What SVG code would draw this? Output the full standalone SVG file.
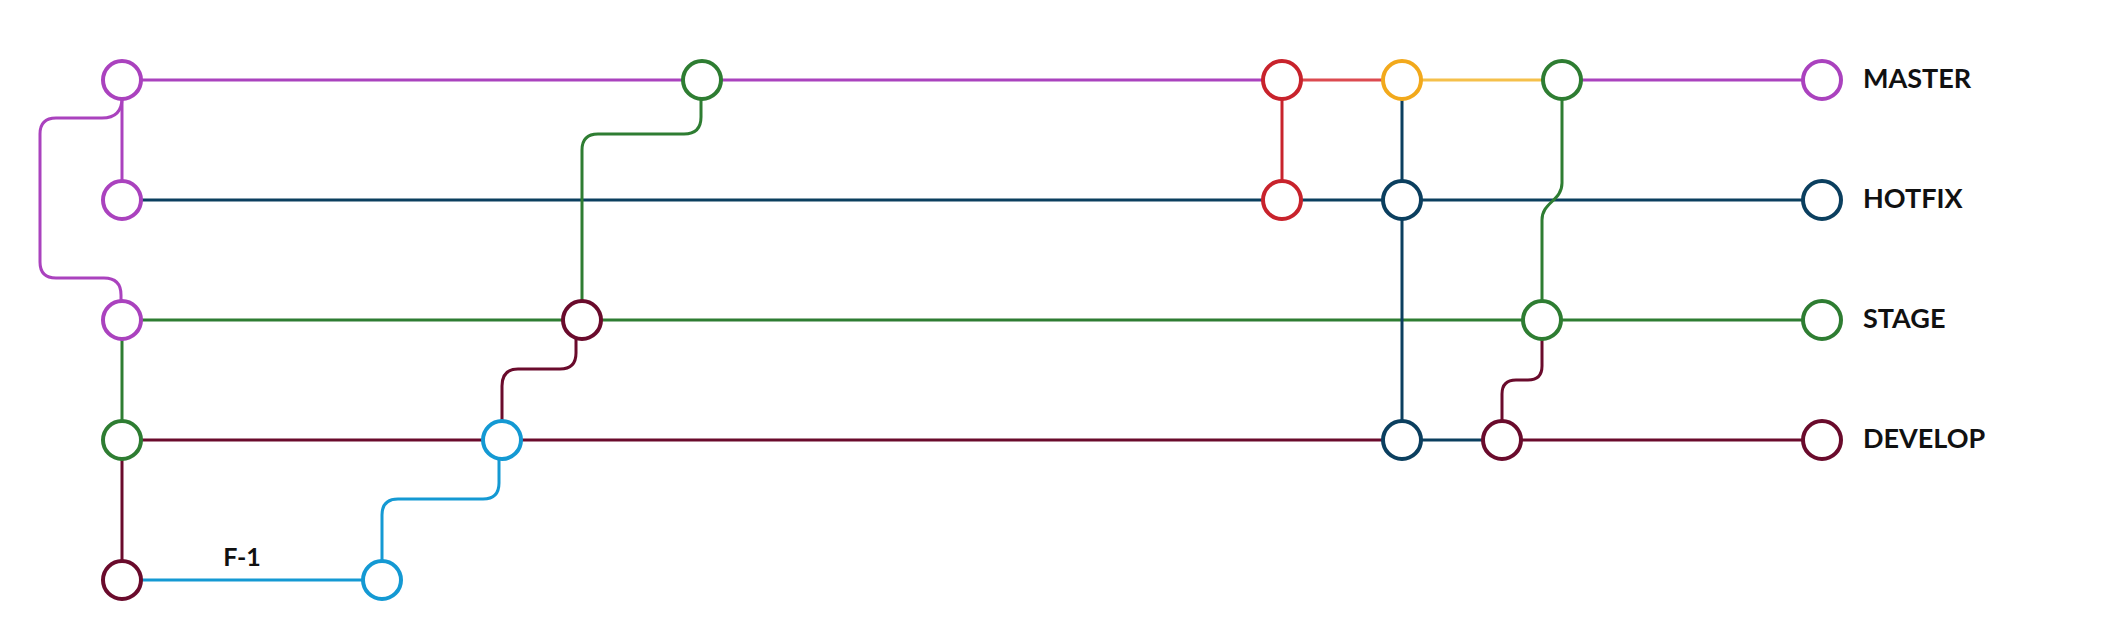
<svg xmlns="http://www.w3.org/2000/svg" width="2123" height="640" viewBox="0 0 2123 640">
<style>
.ln{fill:none;stroke-width:3;stroke-linecap:butt;stroke-linejoin:round}
.nd{fill:#ffffff;stroke-width:4}
.lbl{font-family:Lato,"Liberation Sans",sans-serif;font-weight:bold;font-size:27px;fill:#111111}
.pu{stroke:#aa42be}.db{stroke:#0b3f5f}.gr{stroke:#2e7d32}.dr{stroke:#6a0b2c}.lb{stroke:#1499d3}.rd{stroke:#c8232c}.rl{stroke:#dc4a50}.ye{stroke:#f2a91c}.yl{stroke:#f5c04a}
</style>
<rect width="2123" height="640" fill="#ffffff"/>
<g id="connectors">
<path class="ln pu" d="M122,80 H1282"/>
<path class="ln rl" d="M1282,80 H1402"/>
<path class="ln yl" d="M1402,80 H1562"/>
<path class="ln pu" d="M1562,80 H1822"/>
<path class="ln db" d="M122,200 H1822"/>
<path class="ln gr" d="M122,320 H1822"/>
<path class="ln dr" d="M122,440 H1402"/>
<path class="ln db" d="M1402,440 H1502"/>
<path class="ln dr" d="M1502,440 H1822"/>
<path class="ln lb" d="M122,580 H382"/>
<path class="ln pu" d="M122,80 V200"/>
<path class="ln pu" d="M122,98 Q122,118 102,118 H56 Q40,118 40,134 V262 Q40,278 56,278 H104 Q121,278 121,295 V302"/>
<path class="ln gr" d="M122,320 V440"/>
<path class="ln dr" d="M122,440 V580"/>
<path class="ln lb" d="M382,562 V515 Q382,499 398,499 H483 Q499,499 499,483 V458"/>
<path class="ln dr" d="M502,422 V386 Q502,369 518,369 H560 Q576,369 576,353 V338"/>
<path class="ln gr" d="M582,302 V150 Q582,134 598,134 H684 Q701,134 701,117 V98"/>
<path class="ln rd" d="M1282,80 V200"/>
<path class="ln db" d="M1402,80 V440"/>
<path class="ln gr" d="M1562,98 V183 C1562,201 1542,202 1542,220 V302"/>
<path class="ln dr" d="M1542,338 V366 Q1542,380 1528,380 H1516 Q1502,380 1502,394 V422"/>
</g>
<g id="n-master-1"><circle class="nd pu" cx="122" cy="80" r="19"/></g>
<g id="n-hotfix-1"><circle class="nd pu" cx="122" cy="200" r="19"/></g>
<g id="n-stage-1"><circle class="nd pu" cx="122" cy="320" r="19"/></g>
<g id="n-develop-1"><circle class="nd gr" cx="122" cy="440" r="19"/></g>
<g id="n-f1-1"><circle class="nd dr" cx="122" cy="580" r="19"/></g>
<g id="n-f1-2"><circle class="nd lb" cx="382" cy="580" r="19"/></g>
<g id="n-develop-2"><circle class="nd lb" cx="502" cy="440" r="19"/></g>
<g id="n-stage-2"><circle class="nd dr" cx="582" cy="320" r="19"/></g>
<g id="n-master-2"><circle class="nd gr" cx="702" cy="80" r="19"/></g>
<g id="n-master-3"><circle class="nd rd" cx="1282" cy="80" r="19"/></g>
<g id="n-hotfix-2"><circle class="nd rd" cx="1282" cy="200" r="19"/></g>
<g id="n-master-4"><circle class="nd ye" cx="1402" cy="80" r="19"/></g>
<g id="n-hotfix-3"><circle class="nd db" cx="1402" cy="200" r="19"/></g>
<g id="n-develop-3"><circle class="nd db" cx="1402" cy="440" r="19"/></g>
<g id="n-develop-4"><circle class="nd dr" cx="1502" cy="440" r="19"/></g>
<g id="n-stage-3"><circle class="nd gr" cx="1542" cy="320" r="19"/></g>
<g id="n-master-5"><circle class="nd gr" cx="1562" cy="80" r="19"/></g>
<g id="n-master-end"><circle class="nd pu" cx="1822" cy="80" r="19"/><text class="lbl" x="1863" y="88">MASTER</text></g>
<g id="n-hotfix-end"><circle class="nd db" cx="1822" cy="200" r="19"/><text class="lbl" x="1863" y="208">HOTFIX</text></g>
<g id="n-stage-end"><circle class="nd gr" cx="1822" cy="320" r="19"/><text class="lbl" x="1863" y="328">STAGE</text></g>
<g id="n-develop-end"><circle class="nd dr" cx="1822" cy="440" r="19"/><text class="lbl" x="1863" y="448">DEVELOP</text></g>
<g id="label-f1"><text class="lbl" x="242" y="566" text-anchor="middle" style="font-size:25px">F-1</text></g>
</svg>
